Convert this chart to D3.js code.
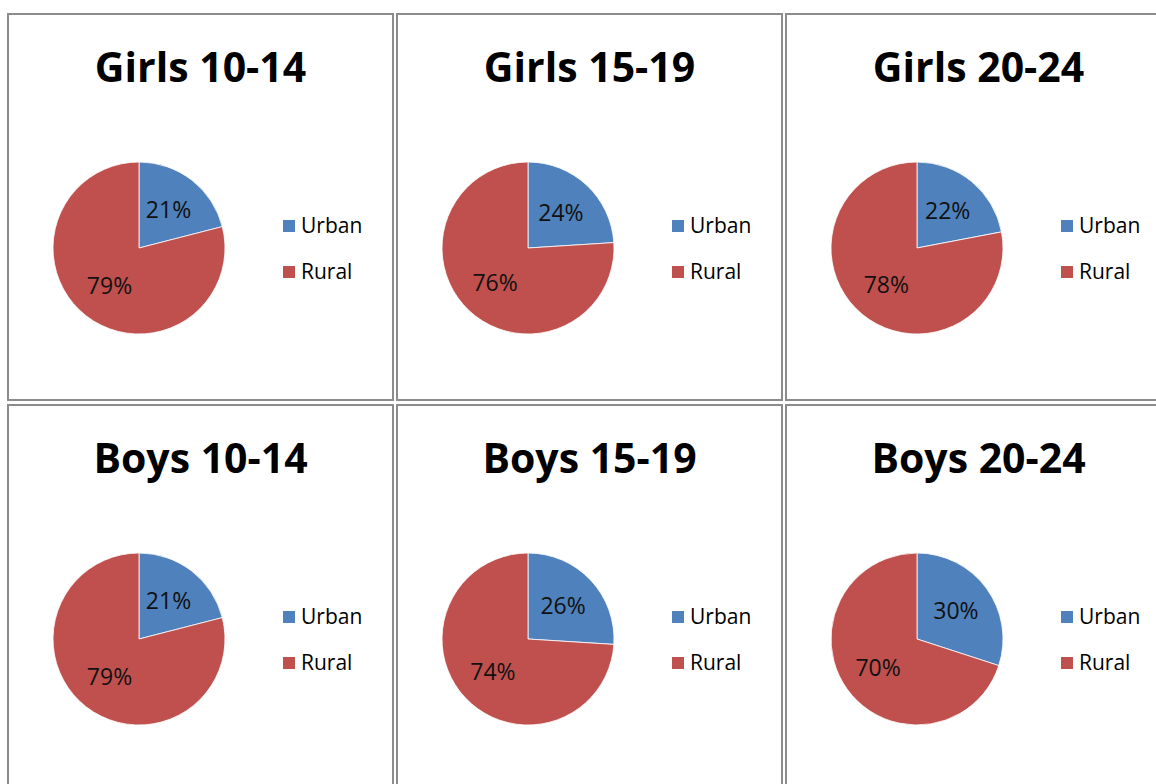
<!DOCTYPE html>
<html>
<head>
<meta charset="utf-8">
<script src="https://cdn.jsdelivr.net/npm/d3@7"></script>
<style>
  body { margin: 0; background: #fff; }
  svg { display: block; }
  .title { font-family: "Open Sans", sans-serif; font-weight: bold; font-size: 41px; fill: #000; }
  .pct { font-family: "Open Sans", sans-serif; font-size: 23px; fill: #111; }
  .leg { font-family: "Open Sans", sans-serif; font-size: 21px; fill: #000; }
</style>
</head>
<body>
<svg id="grid" width="1156" height="784"></svg>
<script>
// chart data
const titles = ["Girls 10-14", "Girls 15-19", "Girls 20-24", "Boys 10-14", "Boys 15-19", "Boys 20-24"];
const categories = ["Urban", "Rural"];
const urbanShare = [21, 24, 22, 21, 26, 30];
const ruralShare = [79, 76, 78, 79, 74, 70];

const colors = d3.scaleOrdinal()
  .domain(categories)
  .range(["#4F81BD", "#C0504D"]);

const svg = d3.select("#grid");

// table layout
const cellW = 385, cellH = 386;
const colX = [8, 397, 786];
const rowY = [14, 405];
const radius = 86;
const pieCx = 131, pieCy = 234;

const pie = d3.pie().sort(null).value(d => d.value);
const arc = d3.arc().innerRadius(0).outerRadius(radius);
const labelArc = d3.arc().innerRadius(radius * 0.56).outerRadius(radius * 0.56);

titles.forEach((title, i) => {
  const x0 = colX[i % 3], y0 = rowY[Math.floor(i / 3)];
  const g = svg.append("g").attr("transform", `translate(${x0},${y0})`);

  // cell border
  g.append("rect")
    .attr("width", cellW)
    .attr("height", cellH)
    .attr("fill", "none")
    .attr("stroke", "#8c8c8c")
    .attr("stroke-width", 2);

  g.append("text")
    .attr("class", "title")
    .attr("x", cellW / 2)
    .attr("y", 68)
    .attr("text-anchor", "middle")
    .text(title);

  const slices = [
    { cat: categories[0], value: urbanShare[i] },
    { cat: categories[1], value: ruralShare[i] }
  ];

  const p = g.append("g").attr("transform", `translate(${pieCx},${pieCy})`);

  p.selectAll("path")
    .data(pie(slices))
    .enter().append("path")
    .attr("d", arc)
    .attr("fill", d => colors(d.data.cat))
    .attr("stroke", "#fff")
    .attr("stroke-width", 0.8);

  p.selectAll(".pct")
    .data(pie(slices))
    .enter().append("text")
    .attr("class", "pct")
    .attr("transform", d => `translate(${labelArc.centroid(d)})`)
    .attr("text-anchor", "middle")
    .attr("dy", "0.36em")
    .text(d => d.data.value + "%");

  // legend
  const leg = g.append("g").attr("transform", `translate(275,${pieCy - 28})`);
  categories.forEach((c, k) => {
    leg.append("rect")
      .attr("x", 0)
      .attr("y", k * 46)
      .attr("width", 12)
      .attr("height", 12)
      .attr("fill", colors(c));
    leg.append("text")
      .attr("class", "leg")
      .attr("x", 18)
      .attr("y", k * 46 + 13)
      .text(c);
  });
});
</script>
</body>
</html>
